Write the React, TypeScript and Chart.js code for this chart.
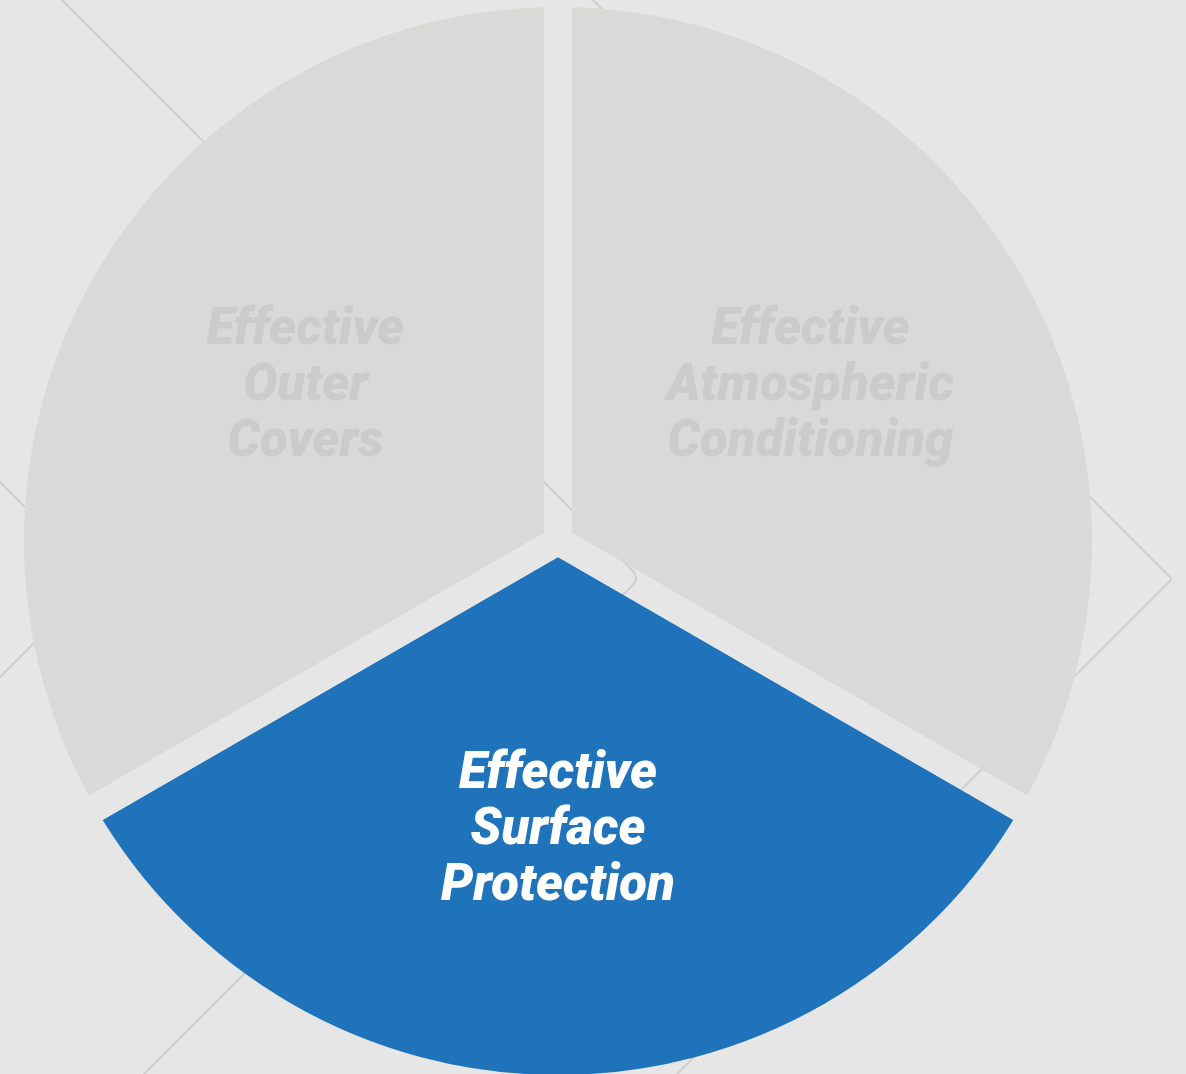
import React, { useEffect, useRef } from "react";
import { Chart, registerables } from "chart.js";

Chart.register(...registerables);

// ---- data ----
const categories: string[] = [
  "Effective Atmospheric Conditioning",
  "Effective Surface Protection",
  "Effective Outer Covers",
];
const shares: number[] = [33.33, 33.33, 33.33];
const sliceColors: string[] = ["#d9d9d7", "#1f73bb", "#d9d9d7"];
const labelColors: string[] = ["#cbcbcb", "#ffffff", "#cbcbcb"];

// ---- decorative background chevrons (not data) ----
const chevrons: number[][][] = [
  [[-10, 472], [97.5, 579.5], [-10, 687]],
  [[52, -10], [640, 578], [134, 1084]],
  [[583, -10], [1172, 579], [667, 1084]],
];
const chevronRound: number[] = [6, 10, 3];

const W = 1186;
const H = 1074;
const GAP = 28;
const BG = "#e6e6e6";

const piePlugin = {
  id: "gapsLabelsBackground",
  afterDatasetsDraw(chart: any) {
    const ctx: CanvasRenderingContext2D = chart.ctx;
    const meta = chart.getDatasetMeta(0);

    // 1. erase gaps between slices
    ctx.save();
    ctx.globalCompositeOperation = "destination-out";
    meta.data.forEach((arc: any) => {
      const saved = arc.options;
      arc.options = {
        ...saved,
        backgroundColor: "rgba(0,0,0,0)",
        borderColor: "#000",
        borderWidth: GAP,
        borderAlign: "center",
        borderJoinStyle: "miter",
        borderDash: [],
        borderDashOffset: 0,
      };
      arc.draw(ctx);
      arc.options = saved;
    });
    ctx.restore();

    // 2. labels
    ctx.save();
    ctx.font = "italic 900 51px Roboto";
    ctx.textAlign = "center";
    ctx.textBaseline = "alphabetic";
    meta.data.forEach((arc: any, i: number) => {
      const p = arc.getProps(["x", "y", "startAngle", "endAngle", "outerRadius"], true);
      const mid = (p.startAngle + p.endAngle) / 2;
      const r = p.outerRadius * 0.54;
      const ax = p.x + Math.cos(mid) * r * 0.985;
      const ay = p.y + Math.sin(mid) * r - 11;
      const lines = categories[i].split(" ");
      const lh = 56;
      ctx.fillStyle = labelColors[i];
      lines.forEach((ln, k) => {
        const by = ay + 18 + (k - (lines.length - 1) / 2) * lh;
        ctx.fillText(ln, ax, by);
      });
    });
    ctx.restore();

    // 3. background chevrons behind everything
    ctx.save();
    ctx.globalCompositeOperation = "destination-over";
    ctx.strokeStyle = "#cfcfcf";
    ctx.lineWidth = 2;
    chevrons.forEach((pts, j) => {
      ctx.beginPath();
      ctx.moveTo(pts[0][0], pts[0][1]);
      ctx.arcTo(pts[1][0], pts[1][1], pts[2][0], pts[2][1], chevronRound[j]);
      ctx.lineTo(pts[2][0], pts[2][1]);
      ctx.stroke();
    });
    // 4. background fill
    ctx.fillStyle = BG;
    ctx.fillRect(0, 0, chart.width, chart.height);
    ctx.restore();
  },
};

export default function App() {
  const ref = useRef<HTMLCanvasElement | null>(null);

  useEffect(() => {
    document.body.style.margin = "0";
    document.body.style.background = BG;
    const canvas = ref.current;
    if (!canvas) return;
    const chart = new Chart(canvas, {
      type: "pie",
      data: {
        labels: categories,
        datasets: [
          {
            data: shares,
            backgroundColor: sliceColors,
            borderWidth: 0,
            radius: 548,
            clip: false,
          } as any,
        ],
      },
      options: {
        animation: false,
        responsive: false,
        maintainAspectRatio: false,
        events: [],
        layout: { padding: { left: 0, right: W - 1116, top: 8, bottom: 0 } },
        plugins: {
          legend: { display: false },
          tooltip: { enabled: false },
        },
      } as any,
      plugins: [piePlugin],
    });
    return () => chart.destroy();
  }, []);

  return (
    <div style={{ width: W, height: H, position: "relative" }}>
      <canvas ref={ref} width={W} height={H} style={{ width: W, height: H, display: "block" }} />
    </div>
  );
}
